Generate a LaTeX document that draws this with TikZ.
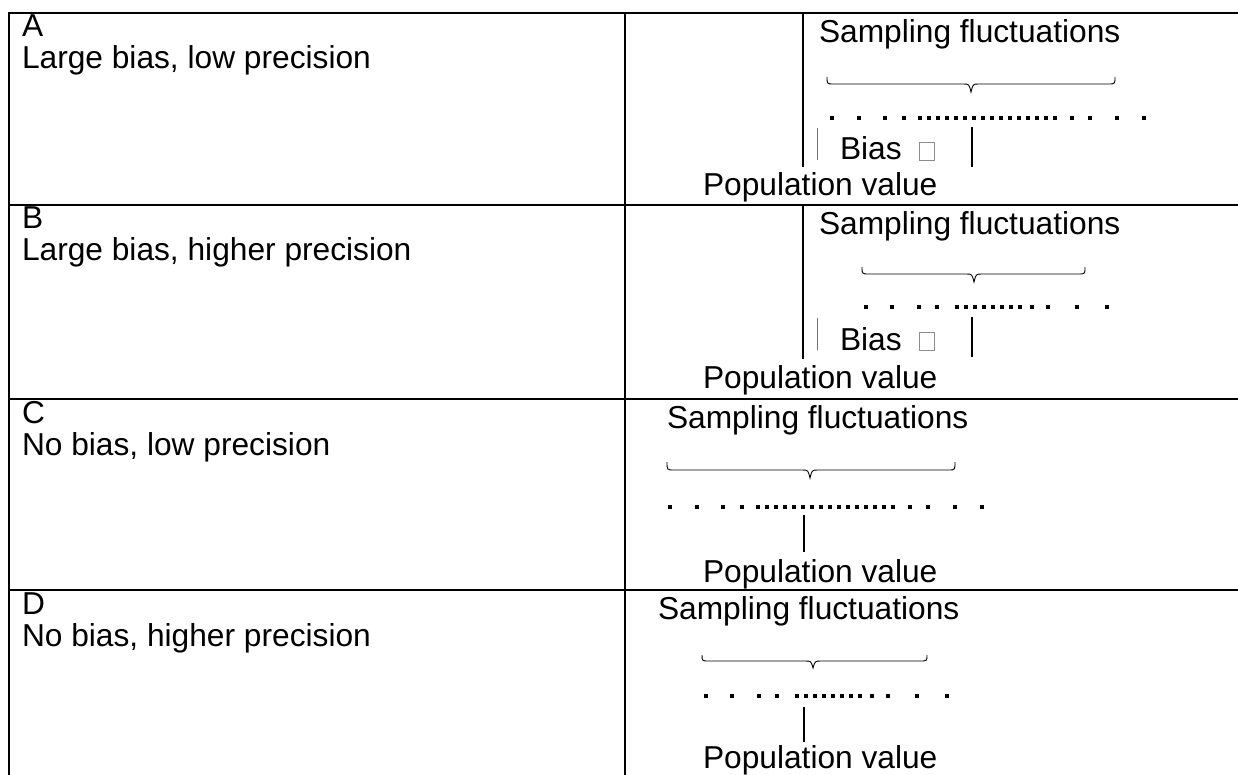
\documentclass[tikz,border=0pt]{standalone}
\usepackage{fontspec}
\setmainfont{Liberation Sans}
\newcommand\drawbrace[6]{%
  \draw[braceline] (#1,#4) .. controls (#1,#5) .. (#1+7,#5) -- (#2-8,#5)
    .. controls (#2-2,#5) .. (#2,#6) .. controls (#2+2,#5) .. (#2+8,#5)
    -- (#3-7,#5) .. controls (#3,#5) .. (#3,#4);}
\begin{document}
\begin{tikzpicture}[x=1pt,y=-1pt,
  every node/.style={inner sep=0pt,outer sep=0pt,font=\fontsize{31.7pt}{36pt}\selectfont},
  rule/.style={line width=1.8pt},
  braceline/.style={line width=0.9pt},
  thinbar/.style={line width=0.8pt,draw=black!55},
  thickbar/.style={line width=1.8pt},
  tofu/.style={draw=black!45,line width=0.7pt,minimum width=15pt,minimum height=18pt}]
\useasboundingbox (0,0) rectangle (1238,775);
% table rules
\draw[rule] (9,13) -- (1238,13);
\draw[rule] (9,12) -- (9,775);
\draw[rule] (625,13) -- (625,775);
\draw[rule] (9,205) -- (1238,205);
\draw[rule] (9,399) -- (1238,399);
\draw[rule] (9,590) -- (1238,590);
\draw[rule] (803,13) -- (803,167);
\draw[rule] (803,205) -- (803,359);

% left column labels
\node[anchor=base west] (la) at (22,37) {A};
\node[anchor=base west] (la2) at (22,69) {Large bias, low precision};
\node[anchor=base west] (lb) at (22,229) {B};
\node[anchor=base west] (lb2) at (22,261) {Large bias, higher precision};
\node[anchor=base west] (lc) at (22,423) {C};
\node[anchor=base west] (lc2) at (22,455) {No bias, low precision};
\node[anchor=base west] (ld) at (22,614) {D};
\node[anchor=base west] (ld2) at (22,646) {No bias, higher precision};

% ---- Row A
\node[anchor=base west] (sa) at (819,43) {Sampling fluctuations};
\drawbrace{827}{971}{1115}{77}{84}{92}
\foreach \x in {832,859,885,904,920,929,...,1055,1072,1090,1117,1144}
  \fill (\x-2.3,115.7) rectangle ++(4.6,4.6);
\draw[thinbar] (817,128) -- (817,160);
\node[anchor=base west] (ba) at (840,160) {Bias};
\node[tofu] (ta) at (927,151) {};
\draw[thickbar] (972,127) -- (972,167);
\node[anchor=base west] (pa) at (703,196) {Population value};

% ---- Row B
\node[anchor=base west] (sb) at (819,235) {Sampling fluctuations};
\drawbrace{862}{974}{1085}{267}{274}{282}
\foreach \x in {866,892,919,937,957,966,...,1020,1032,1048,1077,1107}
  \fill (\x-2.3,304.7) rectangle ++(4.6,4.6);
\draw[thinbar] (817,318) -- (817,350);
\node[anchor=base west] (bb) at (840,350) {Bias};
\node[tofu] (tb) at (927,341) {};
\draw[thickbar] (972,317) -- (972,357);
\node[anchor=base west] (pb) at (703,388) {Population value};

% ---- Row C
\node[anchor=base west] (sc) at (667,428) {Sampling fluctuations};
\drawbrace{667}{810}{955}{462}{470}{478}
\foreach \x in {670,697,723,742,758,767,...,893,910,928,955,982}
  \fill (\x-2.3,504.7) rectangle ++(4.6,4.6);
\draw[thickbar] (804,515) -- (804,552);
\node[anchor=base west] (pc) at (703,582) {Population value};

% ---- Row D
\node[anchor=base west] (sd) at (658,619) {Sampling fluctuations};
\drawbrace{702}{813}{927}{655}{661}{668}
\foreach \x in {706,732,759,777,797,806,...,860,872,888,917,947}
  \fill (\x-2.3,693.7) rectangle ++(4.6,4.6);
\draw[thickbar] (804,707) -- (804,742);
\node[anchor=base west] (pd) at (703,768) {Population value};
\end{tikzpicture}
\end{document}
